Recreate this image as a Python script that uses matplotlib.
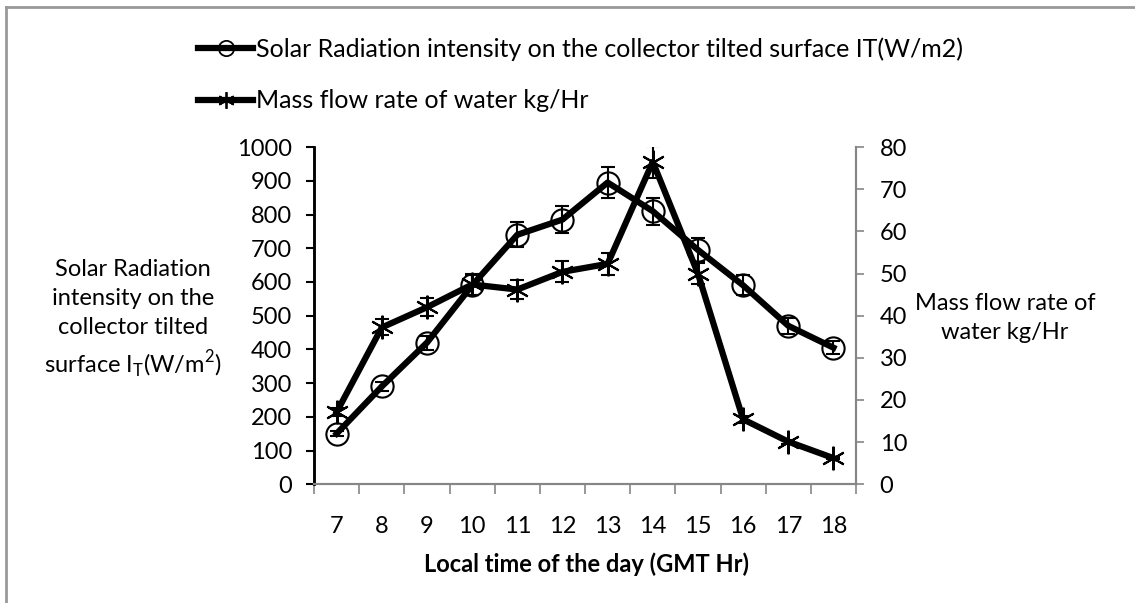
import matplotlib.pyplot as plt
from matplotlib.lines import Line2D
import numpy as np

plt.rcParams['font.family'] = ['Lato', 'DejaVu Sans']

hours = ['7', '8', '9', '10', '11', '12', '13', '14', '15', '16', '17', '18']
radiation = [150, 290, 420, 590, 740, 785, 895, 810, 695, 590, 470, 405]
radiation_err = [7.5, 14.5, 21, 29.5, 37, 39, 45, 40.5, 35, 29.5, 23.5, 20]
mass_flow = [17.1, 37.2, 42.0, 47.4, 46.2, 50.4, 52.3, 76.5, 50.0, 15.4, 10.1, 6.2]
mass_flow_err = [0.9, 1.9, 2.1, 2.4, 2.3, 2.5, 2.6, 3.8, 2.5, 0.8, 0.5, 0.3]

label_rad = 'Solar Radiation intensity on the collector tilted surface IT(W/m2)'
label_flow = 'Mass flow rate of water kg/Hr'

grey = '#868686'
fs = 17
star = (6, 2, 0)

fig = plt.figure(figsize=(11.35, 6.03), dpi=100)
ax = fig.add_axes([0.2767, 0.197, 0.4775, 0.559])
ax2 = ax.twinx()

x = np.arange(1, len(hours) + 1)

ax.errorbar(x, radiation, yerr=radiation_err, color='black', lw=4.5,
            marker='o', ms=16, mfc='none', mec='black', mew=1.5,
            ecolor='black', elinewidth=1.5, capsize=5, capthick=1.5)
ax2.errorbar(x, mass_flow, yerr=mass_flow_err, color='black', lw=4.5,
             marker=star, ms=17, mec='black', mew=1.5,
             ecolor='black', elinewidth=1.5, capsize=5, capthick=1.5)

ax.set_xlim(0.5, 12.5)
ax.set_ylim(0, 1000)
ax2.set_ylim(0, 80)
ax.set_yticks(range(0, 1001, 100))
ax2.set_yticks(range(0, 81, 10))

# category boundaries as ticks, labels at centres
ax.set_xticks(np.arange(0.5, 12.6, 1))
ax.set_xticklabels([])
ax.set_xticks(x, minor=True)
ax.set_xticklabels(hours, minor=True)
ax.tick_params(axis='x', which='major', length=7, width=1.2, color=grey, direction='out')
ax.tick_params(axis='x', which='minor', length=0, pad=23, labelsize=fs)
ax.tick_params(axis='y', length=6, width=1.5, color='black', labelsize=fs, pad=10)
ax2.tick_params(axis='y', length=6, width=1.2, color=grey, labelsize=fs, pad=11)

for a in (ax, ax2):
    a.spines['top'].set_visible(False)
    a.spines['bottom'].set_color(grey)
    a.spines['bottom'].set_linewidth(1.5)
    a.spines['left'].set_color('black')
    a.spines['left'].set_linewidth(1.8)
    a.spines['right'].set_color(grey)
    a.spines['right'].set_linewidth(1.5)

fig.text(133 / 1135, 1 - 320 / 603,
         'Solar Radiation\nintensity on the\ncollector tilted\nsurface I$_\\mathregular{T}$(W/m$^\\mathregular{2}$)',
         ha='center', va='center', fontsize=fs, linespacing=1.45)
fig.text(1005 / 1135, 1 - 318 / 603, 'Mass flow rate of\nwater kg/Hr',
         ha='center', va='center', fontsize=fs, linespacing=1.45)
fig.text(586 / 1135, 1 - 564 / 603, 'Local time of the day (GMT Hr)',
         ha='center', va='center', fontsize=fs, fontweight='bold')

handles = [
    Line2D([], [], color='black', lw=4.5, marker='o', ms=11, mfc='none', mec='black', mew=1.3),
    Line2D([], [], color='black', lw=4.5, marker=star, ms=12, mec='black', mew=1.3),
]
fig.legend(handles, [label_rad, label_flow], loc='upper left',
           bbox_to_anchor=(198 / 1135, 1 - 37 / 603), frameon=False,
           fontsize=18, handlelength=2.2, handletextpad=0.1,
           labelspacing=1.15, borderaxespad=0, borderpad=0)

# outer chart frame (cut off at right and bottom)
fig.add_artist(Line2D([6 / 1135, 6 / 1135], [0, 1 - 7 / 603], color='#999999', lw=2))
fig.add_artist(Line2D([6 / 1135, 1], [1 - 7 / 603, 1 - 7 / 603], color='#999999', lw=2))

fig.savefig('out.png', dpi=100)
